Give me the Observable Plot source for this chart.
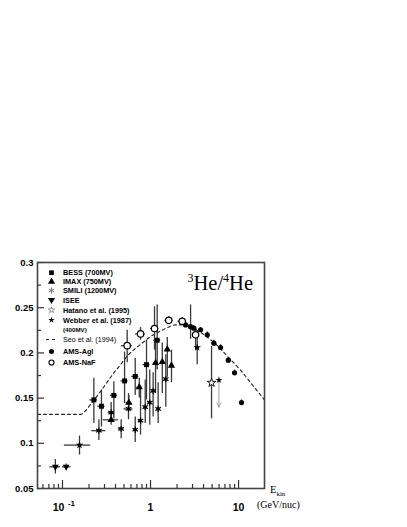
<!DOCTYPE html>
<html><head><meta charset="utf-8">
<script src="https://cdn.jsdelivr.net/npm/d3@7"></script>
<script src="https://cdn.jsdelivr.net/npm/@observablehq/plot@0.6"></script>
<style>html,body{margin:0;padding:0;background:#fff}</style>
</head><body><div id="chart"></div>
<script>
// ---- data: [E (GeV/nuc), ratio, ratioLow, ratioHigh, Elow, Ehigh] ----
const bess = [
  [0.227,0.148,0.122,0.172,0.205,0.250],
  [0.277,0.141,0.118,0.159,0.252,0.305],
  [0.383,0.153,0.127,0.168,0.350,0.420],
  [0.507,0.169,0.144,0.201,0.462,0.556],
  [0.670,0.174,0.153,0.194,0.612,0.735],
  [0.900,0.187,0.148,0.214,0.822,0.988],
  [1.190,0.214,0.181,0.253,1.085,1.305]
];
const imax = [
  [0.357,0.126,0.120,0.133,0.290,0.430],
  [0.567,0.145,0.137,0.153,0.530,0.610],
  [0.745,0.162,0.150,0.172,0.700,0.790],
  [1.140,0.189,0.155,0.211,1.085,1.200],
  [1.360,0.190,0.155,0.211,1.295,1.430],
  [1.550,0.204,0.173,0.217,1.475,1.630],
  [1.730,0.186,0.167,0.203,1.645,1.820]
];
const smili = [
  [0.259,0.114,0.103,0.126,0.215,0.310],
  [0.357,0.134,0.126,0.145,0.330,0.390],
  [0.464,0.116,0.105,0.126,0.430,0.500],
  [0.562,0.138,0.126,0.155,0.500,0.630],
  [0.670,0.115,0.101,0.129,0.640,0.700],
  [0.770,0.125,0.109,0.163,0.730,0.810],
  [0.870,0.140,0.122,0.170,0.830,0.910],
  [0.980,0.145,0.120,0.181,0.940,1.020],
  [1.070,0.158,0.129,0.178,1.030,1.110],
  [1.220,0.138,0.122,0.167,1.170,1.270],
  [1.490,0.171,0.140,0.198,1.430,1.550]
];
const isee = [
  [0.083,0.074,0.066,0.082,0.072,0.095],
  [0.110,0.074,0.071,0.077,0.100,0.125]
];
const hatano = [
  [4.93,0.167,0.127,0.207,4.93,4.93]
];
const webber = [
  [0.156,0.098,0.087,0.108,0.105,0.209],
  [3.39,0.206,0.187,0.222,3.39,3.39]
];
// upper limit: [E, ratio, arrow end]
const webberLimit = [[5.98,0.170,0.140]];
const amsAgl = [
  [2.50,0.231,0.228,0.234,2.38,2.62],
  [2.85,0.229,0.215,0.253,2.72,2.98],
  [3.10,0.2274,0.225,0.230,2.98,3.25],
  [3.70,0.2256,0.223,0.228,3.52,3.88],
  [4.41,0.220,0.217,0.223,4.20,4.62],
  [5.24,0.2108,0.208,0.214,5.00,5.50],
  [6.24,0.206,0.203,0.209,5.95,6.55],
  [7.64,0.192,0.189,0.195,7.30,8.00],
  [9.00,0.178,0.175,0.181,8.60,9.45],
  [10.8,0.145,0.142,0.148,10.3,11.3]
];
const amsNaF = [
  [0.543,0.208,0.189,0.225,0.468,0.624],
  [0.770,0.221,0.214,0.228,0.675,0.877],
  [1.110,0.227,0.203,0.251,1.000,1.240],
  [1.610,0.236,0.232,0.240,1.450,1.800],
  [2.290,0.235,0.231,0.239,2.050,2.550],
  [3.250,0.220,0.203,0.228,3.000,3.500]
];
// Seo et al. (1994) model curve
const seoE = [0.052,0.160,0.183,0.208,0.250,0.308,0.370,0.456,0.548,0.675,0.833,1.00,1.23,1.56,1.92,2.50,3.25,4.21,5.20,7.50,10.5,14.8,19.7];
const seoR = [0.132,0.132,0.136,0.143,0.153,0.165,0.176,0.187,0.197,0.205,0.212,0.218,0.223,0.228,0.231,0.231,0.226,0.219,0.212,0.196,0.181,0.163,0.148];

// axes
const yMajor = [0.05,0.1,0.15,0.2,0.25,0.3];
const yMinor = [0.075,0.125,0.175,0.225,0.275];
const xMajor = [0.1,1,10];
const xLabels = ["10","1","10"];
const xExponent = ["-1"];
const xMinor = [0.06,0.07,0.08,0.09,0.2,0.3,0.4,0.5,0.6,0.7,0.8,0.9,2,3,4,5,6,7,8,9];

const legendItems = [
  {label:"BESS (700MV)", kind:"square"},
  {label:"IMAX (750MV)", kind:"triangle"},
  {label:"SMILI (1200MV)", kind:"asterisk"},
  {label:"ISEE", kind:"tridown"},
  {label:"Hatano et al. (1995)", kind:"openstar"},
  {label:"Webber et al. (1987)", kind:"star"},
  {label:"(400MV)", kind:"none"},
  {label:"Seo et al. (1994)", kind:"dash"},
  {label:"AMS-Agl", kind:"circle"},
  {label:"AMS-NaF", kind:"opencircle"}
];

const toObj = a => a.map(([E,R,lo,hi,elo,ehi]) => ({E,R,lo,hi,elo,ehi}));
const B = toObj(bess), I = toObj(imax), S = toObj(smili), IS = toObj(isee),
      HA = toObj(hatano), WE = toObj(webber), AG = toObj(amsAgl), NA = toObj(amsNaF);
const UL = webberLimit.map(([E,R,lim]) => ({E,R,lim}));
const seo = seoE.map((E,i) => ({E, R: seoR[i]}));

const W = 407, H = 527, mL = 37, mR = 143, mT = 262, mB = 39;
const pW = W - mL - mR, pH = H - mT - mB;
const barColor = "#3a3a3a";
const sans = "'Liberation Sans', Arial, sans-serif";
const serif = "'Liberation Serif', 'Times New Roman', serif";

const errMarks = data => [
  Plot.ruleX(data, {x:"E", y1:"lo", y2:"hi", stroke:barColor, strokeWidth:1.3}),
  Plot.ruleY(data, {y:"R", x1:"elo", x2:"ehi", stroke:barColor, strokeWidth:1.3})
];

const chart = Plot.plot({
  width: W, height: H,
  marginLeft: mL, marginRight: mR, marginTop: mT, marginBottom: mB,
  x: {type:"log", domain:[0.052,19.7], axis:null},
  y: {domain:[0.05,0.3], axis:null},
  style: {background:"#fff", fontFamily:sans},
  marks: [
    Plot.line(seo, {x:"E", y:"R", stroke:"#222", strokeWidth:1.1, strokeDasharray:"3,3", curve:"monotone-x"}),
    ...errMarks(S), ...errMarks(I), ...errMarks(B), ...errMarks(IS), ...errMarks(WE),
    ...errMarks(HA), ...errMarks(AG), ...errMarks(NA),
    Plot.arrow(UL, {x1:"E", y1:"R", x2:"E", y2:"lim", stroke:"#888", strokeWidth:0.8, headLength:9, headAngle:50}),
    Plot.dot(S, {x:"E", y:"R", symbol:"square", fill:"#000", r:1.6}),
    Plot.dot(S, {x:"E", y:"R", symbol:"asterisk", stroke:"#000", strokeWidth:1.1, r:3.0}),
    Plot.dot(I, {x:"E", y:"R", symbol:"triangle", fill:"#000", r:2.7}),
    Plot.dot(B, {x:"E", y:"R", symbol:"square", fill:"#000", r:2.8}),
    Plot.dot(IS, {x:"E", y:"R", symbol:"triangle", rotate:180, fill:"#000", r:2.5}),
    Plot.dot(WE, {x:"E", y:"R", symbol:"star", fill:"#000", r:2.4}),
    Plot.dot(UL, {x:"E", y:"R", symbol:"star", fill:"#000", r:2.2}),
    Plot.dot(HA, {x:"E", y:"R", symbol:"star", fill:"#fff", stroke:"#000", strokeWidth:0.9, r:2.7}),
    Plot.dot(AG, {x:"E", y:"R", symbol:"circle", fill:"#000", r:2.6}),
    Plot.dot(NA, {x:"E", y:"R", symbol:"circle", fill:"#fff", stroke:"#000", strokeWidth:1.2, r:3.2}),
    // inward ticks
    Plot.tickY(yMajor, {y:d=>d, insetRight:pW-7, stroke:"#333", strokeWidth:1.2}),
    Plot.tickY(yMinor, {y:d=>d, insetRight:pW-4, stroke:"#333", strokeWidth:1.2}),
    Plot.tickX(xMajor, {x:d=>d, insetTop:pH-8, stroke:"#333", strokeWidth:1.2}),
    Plot.tickX(xMinor, {x:d=>d, insetTop:pH-4, stroke:"#333", strokeWidth:1.2}),
    Plot.frame({stroke:"#444", strokeWidth:1.6}),
    // tick labels
    Plot.text(yMajor, {y:d=>d, frameAnchor:"left", textAnchor:"end", dx:-4, text:d=>d3.format("~g")(d), fontWeight:"bold", fontSize:9.5, fill:"#000"}),
    Plot.text(xMajor.slice(0,1), {x:d=>d, frameAnchor:"bottom", text:(d,i)=>xLabels[i], dx:-4, dy:19, fontWeight:"bold", fontSize:10.5, fill:"#000", lineAnchor:"middle"}),
    Plot.text(xMajor.slice(0,1), {x:d=>d, frameAnchor:"bottom", text:(d,i)=>xExponent[i], dx:9, dy:15, fontWeight:"bold", fontSize:8, fill:"#000", lineAnchor:"middle"}),
    Plot.text(xMajor.slice(1), {x:d=>d, frameAnchor:"bottom", text:(d,i)=>xLabels[i+1], dy:19, fontWeight:"bold", fontSize:10.5, fill:"#000", lineAnchor:"middle"})
  ]
});

document.getElementById("chart").appendChild(chart);
const svg = d3.select(chart);

// title
const title = svg.append("text")
  .attr("x", 253).attr("y", 290)
  .attr("text-anchor", "end")
  .attr("font-family", serif)
  .attr("font-size", 20.5).attr("fill", "#000");
title.append("tspan").attr("font-size", 12).attr("dy", -8).text("3");
title.append("tspan").attr("dy", 8).text("He/");
title.append("tspan").attr("font-size", 12).attr("dy", -8).text("4");
title.append("tspan").attr("dy", 8).text("He");

// x axis title
const ek = svg.append("text").attr("x", 270).attr("y", 493).attr("text-anchor", "start")
  .attr("font-family", serif).attr("font-size", 10.5).attr("fill", "#000");
ek.append("tspan").text("E");
ek.append("tspan").attr("font-size", 7).attr("dy", 3).text("kin");
svg.append("text").attr("x", 257).attr("y", 508).attr("text-anchor", "start")
  .attr("font-family", serif).attr("font-size", 10).attr("fill", "#000")
  .text("(GeV/nuc)");

// legend
const legY = [272.7, 281.7, 290.5, 300, 310, 320, 330, 339.5, 351.5, 362.5];
const lg = svg.append("g").attr("text-anchor", "start");
legendItems.forEach((it, i) => {
  const y = legY[i], x = 51.5;
  const sym = (type, size) => d3.symbol().type(type).size(size)();
  if (it.kind === "square") lg.append("path").attr("d", sym(d3.symbolSquare, 22)).attr("transform", `translate(${x},${y})`).attr("fill", "#000");
  if (it.kind === "triangle") lg.append("path").attr("d", sym(d3.symbolTriangle, 22)).attr("transform", `translate(${x},${y})`).attr("fill", "#000");
  if (it.kind === "tridown") lg.append("path").attr("d", sym(d3.symbolTriangle, 22)).attr("transform", `translate(${x},${y}) rotate(180)`).attr("fill", "#000");
  if (it.kind === "asterisk") lg.append("path").attr("d", sym(d3.symbolAsterisk, 26)).attr("transform", `translate(${x},${y})`).attr("fill", "none").attr("stroke", "#777").attr("stroke-width", 1);
  if (it.kind === "openstar") lg.append("path").attr("d", sym(d3.symbolStar, 12)).attr("transform", `translate(${x},${y})`).attr("fill", "#fff").attr("stroke", "#666").attr("stroke-width", 0.7);
  if (it.kind === "star") lg.append("path").attr("d", sym(d3.symbolStar, 12)).attr("transform", `translate(${x},${y})`).attr("fill", "#000");
  if (it.kind === "circle") lg.append("path").attr("d", sym(d3.symbolCircle, 20)).attr("transform", `translate(${x},${y})`).attr("fill", "#000");
  if (it.kind === "opencircle") lg.append("path").attr("d", sym(d3.symbolCircle, 20)).attr("transform", `translate(${x},${y})`).attr("fill", "#fff").attr("stroke", "#000").attr("stroke-width", 1.1);
  if (it.kind === "dash") lg.append("line").attr("x1", 46).attr("x2", 56).attr("y1", y).attr("y2", y).attr("stroke", "#222").attr("stroke-width", 1.1).attr("stroke-dasharray", "3,3");
  lg.append("text").attr("x", 63).attr("y", y).attr("dy", "0.35em")
    .attr("text-anchor", "start")
    .attr("font-family", sans)
    .attr("font-weight", it.kind === "dash" ? "normal" : "bold")
    .attr("font-size", it.kind === "none" ? 6.2 : (it.kind === "dash" ? 7.2 : 7.3))
    .attr("fill", "#000").text(it.label);
});
</script></body></html>
